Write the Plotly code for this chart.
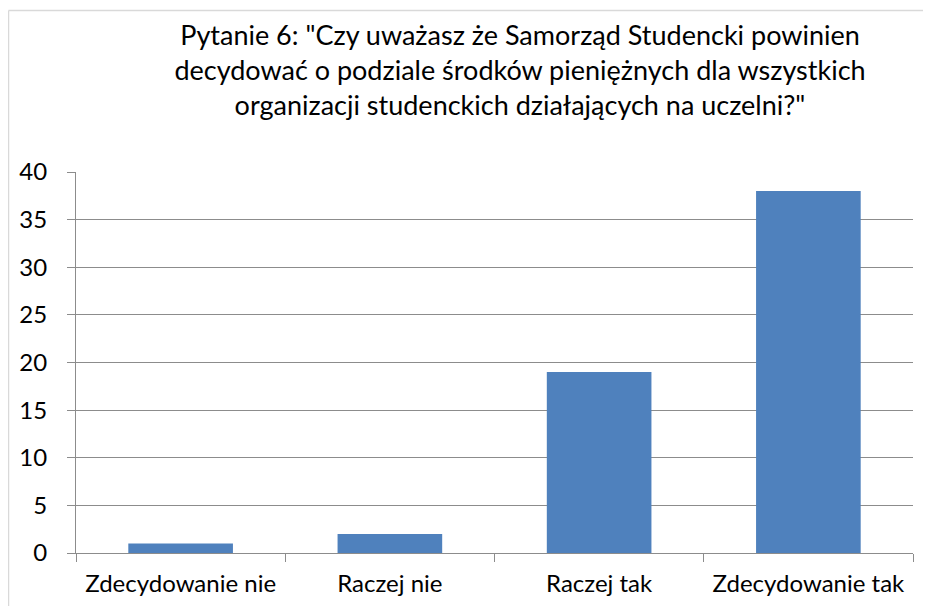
import plotly.graph_objects as go

categories = ["Zdecydowanie nie", "Raczej nie", "Raczej tak", "Zdecydowanie tak"]
values = [1, 2, 19, 38]
title_text = ('Pytanie 6: "Czy uważasz że Samorząd Studencki powinien<br>'
              'decydować o podziale środków pieniężnych dla wszystkich<br>'
              'organizacji studenckich działających na uczelni?"')

# page has an 8px body margin; figure sits at (8, 8) and fits inside the window
OFF = 8
W, H = 931 - 2 * OFF, 614 - 2 * OFF
L, R, T, B = 76 - OFF, 18 - OFF, 172 - OFF, 61 - OFF
pw, ph = W - L - R, H - T - B

def px_x(p):
    return (p - OFF - L) / pw

def px_y(p):
    return (OFF + T + ph - p) / ph

border = dict(color="#d9d9d9", width=1.5)
fig = go.Figure(go.Bar(x=categories, y=values, marker_color="#4F81BD",
                       marker_line_width=0))

fig.update_layout(
    width=W, height=H,
    margin=dict(l=L, r=R, t=T, b=B),
    paper_bgcolor="white", plot_bgcolor="white",
    font=dict(family="Lato, Carlito, Calibri, sans-serif", size=24, color="black"),
    bargap=0.5,
    showlegend=False,
    title=dict(text=title_text, x=(520 - OFF) / W, xanchor="center", xref="container",
               y=1 - (45 - OFF) / H, yanchor="middle", yref="container",
               font=dict(size=27, color="black")),
    shapes=[
        dict(type="line", xref="paper", yref="paper",
             x0=px_x(8.5), x1=px_x(923), y0=px_y(10.5), y1=px_y(10.5),
             line=border, layer="below"),
        dict(type="line", xref="paper", yref="paper",
             x0=px_x(8.5), x1=px_x(8.5), y0=px_y(10.5), y1=px_y(606),
             line=border, layer="below"),
    ],
)
fig.update_yaxes(range=[0, 40], dtick=5, showgrid=True, gridcolor="#8c8c8c",
                 gridwidth=1, showline=True, linecolor="#8c8c8c", linewidth=1,
                 ticks="outside", ticklen=8, tickcolor="#8c8c8c",
                 zeroline=False, ticklabelstandoff=15)
fig.update_xaxes(showline=True, linecolor="#8c8c8c", linewidth=1,
                 ticks="outside", ticklen=8, tickcolor="#8c8c8c",
                 tickson="boundaries", ticklabelstandoff=9)

fig.write_html("out.html", config={"displayModeBar": False})
